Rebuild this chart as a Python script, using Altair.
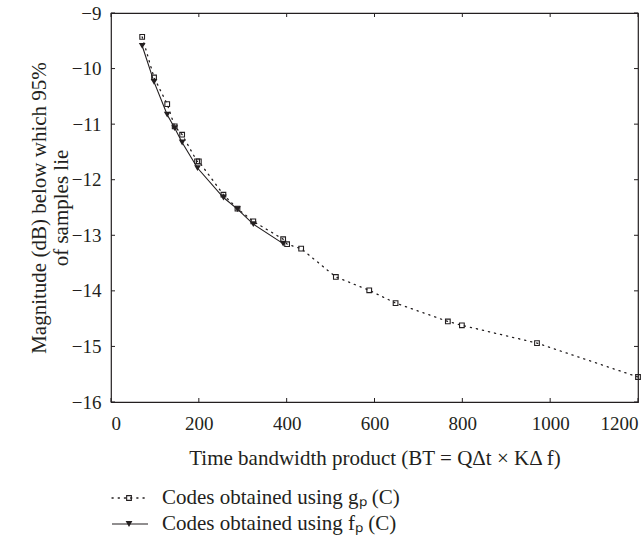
import altair as alt
import pandas as pd

# ---- data ----
g_x = [71, 98, 128, 145, 162, 196, 200, 256, 288, 324, 392, 401, 433, 512, 588, 648, 767, 799, 970, 1200]
g_y = [-9.43, -10.16, -10.64, -11.04, -11.19, -11.67, -11.67, -12.27, -12.52, -12.75, -13.07, -13.16,
       -13.24, -13.75, -13.99, -14.22, -14.55, -14.62, -14.94, -15.55]
f_x = [71, 98, 128, 145, 162, 197, 256, 288, 324, 392]
f_y = [-9.59, -10.24, -10.83, -11.07, -11.33, -11.79, -12.32, -12.53, -12.80, -13.15]

x_ticks = [0, 200, 400, 600, 800, 1000, 1200]
y_ticks = [-9, -10, -11, -12, -13, -14, -15, -16]
legend_labels = ["Codes obtained using gₚ (C)", "Codes obtained using fₚ (C)"]
x_title = "Time bandwidth product (BT = QΔt × KΔ f)"
y_title = ["Magnitude (dB) below which 95%", "of samples lie"]

W, H = 527, 389
FONT = "Liberation Serif"
INK = "#231f20"

g_df = pd.DataFrame({"x": g_x, "y": g_y})
f_df = pd.DataFrame({"x": f_x, "y": f_y})
xt_df = pd.DataFrame({"t": x_ticks})
yt_df = pd.DataFrame({"t": y_ticks})

xscale = alt.Scale(domain=[0, 1200], nice=False, zero=False)
yscale = alt.Scale(domain=[-16, -9], nice=False, zero=False)

X = alt.X("x:Q", scale=xscale,
          axis=alt.Axis(values=x_ticks, ticks=False, domain=False, grid=False, title=x_title,
                        labelPadding=12, titlePadding=14, format="d"))
Y = alt.Y("y:Q", scale=yscale,
          axis=alt.Axis(values=y_ticks, ticks=False, domain=False, grid=False, title=y_title,
                        labelPadding=10, titlePadding=0, format="d"))

g_line = alt.Chart(g_df).mark_line(color=INK, strokeWidth=1.3, strokeDash=[1.2, 5], strokeCap="round").encode(x=X, y=Y)
g_pts = alt.Chart(g_df).mark_point(shape="square", size=22, filled=False, stroke=INK, strokeWidth=1.1, opacity=1).encode(x=X, y=Y)
f_line = alt.Chart(f_df).mark_line(color=INK, strokeWidth=1.1).encode(x=X, y=Y)
f_pts = alt.Chart(f_df).mark_point(shape="triangle-down", size=45, filled=True, color=INK, opacity=1).encode(x=X, y=Y)

# inward tick marks on all four sides
xs = alt.X("t:Q", scale=xscale)
ys = alt.Y("t:Q", scale=yscale)
tick_b = alt.Chart(xt_df).mark_rule(color=INK, strokeWidth=1).encode(x=xs, y=alt.value(H), y2=alt.value(H - 4))
tick_t = alt.Chart(xt_df).mark_rule(color=INK, strokeWidth=1).encode(x=xs, y=alt.value(0), y2=alt.value(4))
tick_l = alt.Chart(yt_df).mark_rule(color=INK, strokeWidth=1).encode(y=ys, x=alt.value(0), x2=alt.value(4))
tick_r = alt.Chart(yt_df).mark_rule(color=INK, strokeWidth=1).encode(y=ys, x=alt.value(W), x2=alt.value(W - 4))

# legend below the axis title
row1, row2 = 485, 511
one = pd.DataFrame({"label": [legend_labels[0]]})
two = pd.DataFrame({"label": [legend_labels[1]]})
leg_g_line = alt.Chart(one).mark_rule(color=INK, strokeWidth=1.3, strokeDash=[1.2, 5], strokeCap="round").encode(
    x=alt.value(1), x2=alt.value(37), y=alt.value(row1))
leg_g_pt = alt.Chart(one).mark_point(shape="square", size=22, filled=False, stroke=INK, strokeWidth=1.1, opacity=1).encode(
    x=alt.value(18), y=alt.value(row1))
leg_g_txt = alt.Chart(one).mark_text(align="left", baseline="middle", font=FONT, fontSize=21, color=INK).encode(
    x=alt.value(51), y=alt.value(row1), text="label:N")
leg_f_line = alt.Chart(two).mark_rule(color=INK, strokeWidth=1.1).encode(
    x=alt.value(1), x2=alt.value(37), y=alt.value(row2))
leg_f_pt = alt.Chart(two).mark_point(shape="triangle-down", size=45, filled=True, color=INK, opacity=1).encode(
    x=alt.value(18), y=alt.value(row2))
leg_f_txt = alt.Chart(two).mark_text(align="left", baseline="middle", font=FONT, fontSize=21, color=INK).encode(
    x=alt.value(51), y=alt.value(row2), text="label:N")

chart = alt.layer(
    g_line, f_line, g_pts, f_pts, tick_b, tick_t, tick_l, tick_r,
    leg_g_line, leg_g_pt, leg_g_txt, leg_f_line, leg_f_pt, leg_f_txt
).properties(
    width=W, height=H,
    autosize=alt.AutoSizeParams(type="none"),
    padding={"left": 111, "top": 13, "right": 6, "bottom": 140},
    background="white",
).configure_view(
    stroke=INK, strokeWidth=1.2
).configure_axis(
    labelFont=FONT, titleFont=FONT, labelFontSize=19, titleFontSize=21,
    labelColor=INK, titleColor=INK, titleFontWeight="normal", titleLineHeight=22
)

chart.save("out.html", embed_options={"renderer": "svg", "actions": False})
